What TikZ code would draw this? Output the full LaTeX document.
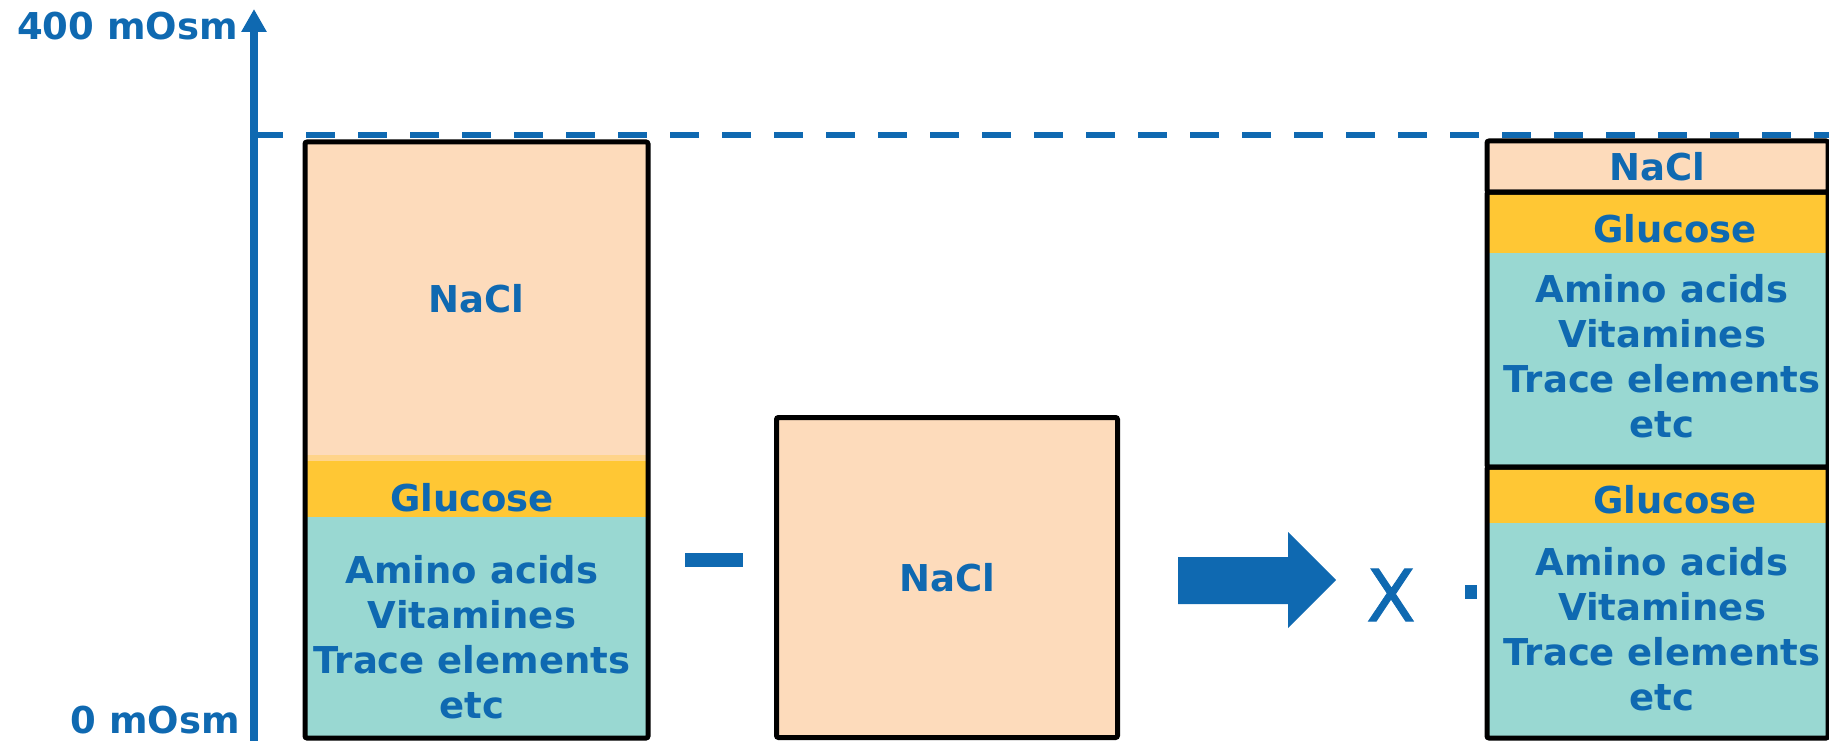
\documentclass[tikz,border=0pt]{standalone}
\usepackage{fontspec}
\setmainfont{DejaVu Sans}
\newfontfamily\timesfont[FakeBold=1.2]{DejaVu Sans}
\usepackage{tikz}
\usetikzlibrary{arrows.meta}
\usetikzlibrary{positioning}

\definecolor{osmblue}{HTML}{0F69B1}
\definecolor{naclfill}{HTML}{FDDBBB}
\definecolor{glufill}{HTML}{FFC734}
\definecolor{glufade}{HTML}{FFD48A}
\definecolor{aminofill}{HTML}{99D8D2}

\begin{document}
\begin{tikzpicture}[x=1pt,y=-1pt]
\tikzstyle{part} = [rectangle, inner sep=0pt, outer sep=0pt, minimum width=343pt,
text=osmblue, font=\fontsize{37}{45}\selectfont\bfseries]
\tikzstyle{salt} = [part, fill=naclfill]
\tikzstyle{sugar} = [part, fill=glufill]
\tikzstyle{rest} = [part, fill=aminofill]
\tikzstyle{frame} = [draw=black, line width=5pt, rounded corners=2pt]
\tikzstyle{word} = [text=osmblue, font=\fontsize{37}{45}\selectfont\bfseries,
align=center, inner sep=0pt]
\tikzstyle{signbox} = [rectangle, fill=osmblue, inner sep=0pt]
\useasboundingbox (0,0) rectangle (1829,741);
% axis
\coordinate (origin) at (254,741);
\coordinate (top) at (254,9);
\coordinate (level) at (254,135);
\coordinate (levelend) at (1829,135);
\draw[osmblue, line width=8pt, -{Triangle[width=24pt,length=23pt]}] (origin) -- (top);
\draw[osmblue, line width=6pt, dash pattern=on 29pt off 23pt] (level) -- (levelend);
\node[word, anchor=base east] (max) at (238,40) {400 mOsm};
\node[word, anchor=base east] (zero) at (240,733) {0 mOsm};
% left bar
\node[salt, minimum height=313pt] (lnacl) at (476.5,298.5) {NaCl};
\node[sugar, minimum height=62pt, below=0pt of lnacl] (lglu) {};
\node[rest, minimum height=221pt, below=0pt of lglu] (lrest) {};
\fill[glufade] (lglu.north west) rectangle ([yshift=-6pt]lglu.north east);
\draw[frame] (lnacl.north west) rectangle (lrest.south east);
\node[word] (lglutxt) at (472,498) {Glucose};
\node[word] (lresttxt) at (472,637) {Amino acids\\Vitamines\\Trace elements\\etc};
% minus
\node[signbox, minimum width=58pt, minimum height=14pt] (minus) at (714,560) {};
% middle box
\node[salt, frame, minimum width=341pt, minimum height=320pt] (mnacl) at (947,577.5) {NaCl};
% arrow
\fill[osmblue] (1178,557) -- (1288,557) -- (1288,532) -- (1336,580) -- (1288,628)
-- (1288,604) -- (1178,604) -- cycle;
\node[text=osmblue, font=\fontsize{72}{72}\timesfont, inner sep=0pt] (times) at (1391,595) {X};
\node[signbox, minimum width=12pt, minimum height=14pt] (dot) at (1471,592) {};
% right bar
\node[salt, minimum width=341pt, minimum height=51pt] (rnacl) at (1657.5,166.5) {NaCl};
\node[sugar, minimum width=341pt, minimum height=61pt, below=0pt of rnacl] (rglua) {};
\node[rest, minimum width=341pt, minimum height=214pt, below=0pt of rglua] (rresta) {};
\node[sugar, minimum width=341pt, minimum height=56pt, below=0pt of rresta] (rglub) {};
\node[rest, minimum width=341pt, minimum height=215pt, below=0pt of rglub] (rrestb) {};
\draw[frame] (rnacl.north west) rectangle (rnacl.south east);
\draw[frame] (rglua.north west) rectangle (rresta.south east);
\draw[frame] (rglub.north west) rectangle (rrestb.south east);
\node[word] (rgluatxt) at (1675,229) {Glucose};
\node[word] (rrestatxt) at (1662,356) {Amino acids\\Vitamines\\Trace elements\\etc};
\node[word] (rglubtxt) at (1675,500) {Glucose};
\node[word] (rrestbtxt) at (1662,629) {Amino acids\\Vitamines\\Trace elements\\etc};
\end{tikzpicture}
\end{document}
